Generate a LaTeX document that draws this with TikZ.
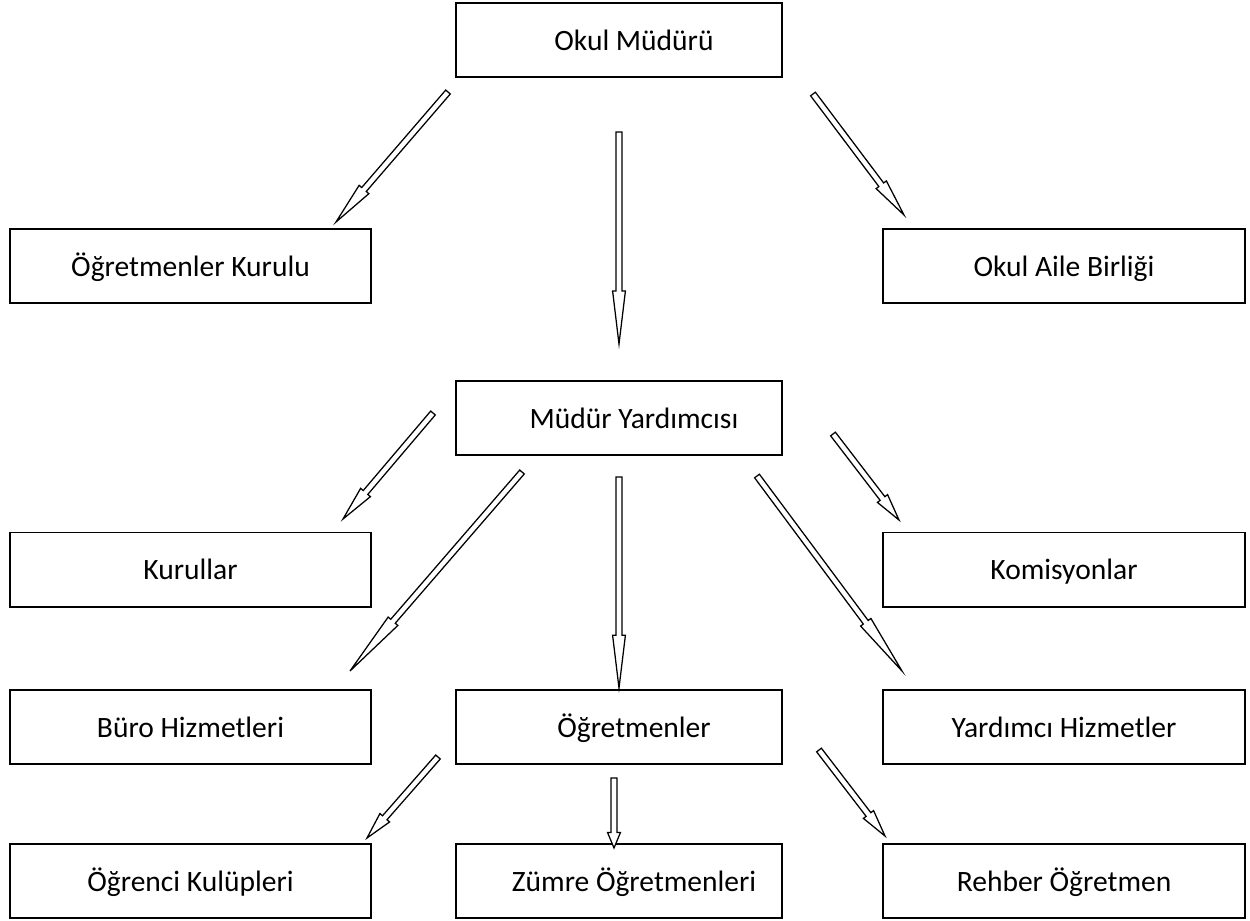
\documentclass[tikz,border=0pt]{standalone}
\usepackage{fontspec}
\setmainfont{Carlito}
\usetikzlibrary{calc}
\tikzset{
  box/.style = {draw, line width=1.4pt, minimum height=1.85cm,
                inner sep=0pt, text height=16pt, text depth=1.5pt,
                font=\fontsize{21}{25}\selectfont},
  widebox/.style = {box, minimum width=9.03cm},
  midbox/.style = {box, minimum width=8.15cm,
                   execute at begin node=\hspace*{0.75cm}},
  blk/.style = {draw, line width=0.9pt, fill=white, line join=miter}
}
% hollow block arrow: [head fraction]{from}{tip}
\newcommand{\blockarrow}[3][0.25]{%
	\coordinate (hb) at ($(#3)!#1!(#2)$);
	\draw[blk] ($(#2)!0.075cm!90:(#3)$) -- ($(hb)!0.075cm!90:(#3)$)
		-- ($(hb)!0.16cm!90:(#3)$) -- (#3)
		-- ($(hb)!0.16cm!-90:(#3)$) -- ($(hb)!0.075cm!-90:(#3)$)
		-- ($(#2)!0.075cm!-90:(#3)$) -- cycle;
}

\begin{document}
\begin{tikzpicture}[x=0.025cm, y=-0.025cm]
	\useasboundingbox (0,0) rectangle (1250,921);

	% Boxes
	\node[midbox]  (mudur)    at (619,40)     {Okul Müdürü};
	\node[widebox] (kurul)    at (190.5,266)  {Öğretmenler Kurulu};
	\node[widebox] (aile)     at (1064,266)   {Okul Aile Birliği};
	\node[midbox]  (yard)     at (619,418)    {Müdür Yardımcısı};
	\node[widebox] (kurullar) at (190.5,569.5) {Kurullar};
	\node[widebox] (komis)    at (1064,569.5) {Komisyonlar};
	\node[widebox] (buro)     at (190.5,727)  {Büro Hizmetleri};
	\node[midbox]  (ogrt)     at (619,727)    {Öğretmenler};
	\node[widebox] (yhizm)    at (1064,727)   {Yardımcı Hizmetler};
	\node[widebox] (kulup)    at (190.5,881)  {Öğrenci Kulüpleri};
	\node[midbox]  (zumre)    at (619,881)    {Zümre Öğretmenleri};
	\node[widebox] (rehber)   at (1064,881)   {Rehber Öğretmen};

	% Arrow ends
	\coordinate (a1) at (448,92);   \coordinate (b1) at (336,222);
	\coordinate (a2) at (619,132);  \coordinate (b2) at (619,344);
	\coordinate (a3) at (813,94);   \coordinate (b3) at (904,215);
	\coordinate (a4) at (433,413);  \coordinate (b4) at (343,519);
	\coordinate (a5) at (522,472);  \coordinate (b5) at (350,671);
	\coordinate (a6) at (619,477);  \coordinate (b6) at (619,688);
	\coordinate (a7) at (757,476);  \coordinate (b7) at (902,671);
	\coordinate (a8) at (833,434);  \coordinate (b8) at (899,520);
	\coordinate (a9) at (438,757);  \coordinate (b9) at (367,838);
	\coordinate (a10) at (614,778); \coordinate (b10) at (614,848);
	\coordinate (a11) at (819,750); \coordinate (b11) at (885,836);

	% Arrows
	\blockarrow{a1}{b1}
	\blockarrow{a2}{b2}
	\blockarrow{a3}{b3}
	\blockarrow{a4}{b4}
	\blockarrow{a5}{b5}
	\blockarrow{a6}{b6}
	\blockarrow{a7}{b7}
	\blockarrow{a8}{b8}
	\blockarrow{a9}{b9}
	\blockarrow[0.22]{a10}{b10}
	\blockarrow{a11}{b11}
\end{tikzpicture}
\end{document}
